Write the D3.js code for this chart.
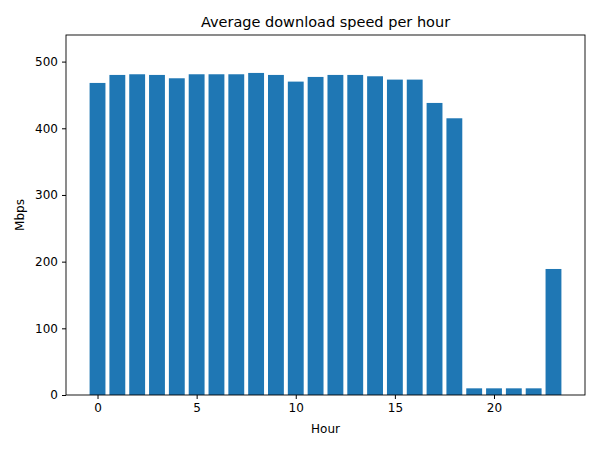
<!DOCTYPE html>
<html><head><meta charset="utf-8">
<script src="https://cdn.jsdelivr.net/npm/d3@7"></script>
<style>body{margin:0;background:#fff}text{font-family:"DejaVu Sans",sans-serif}</style>
</head><body><div id="app"></div>
<script>
const hours = d3.range(24);
const speeds = [468,480,481,480,475,481,481,481,483,480,470,477,480,480,478,473,473,438,415,10,10,10,10,189];
const xTicks = [0,5,10,15,20];
const yTicks = [0,100,200,300,400,500];

const W = 600, H = 450, m = {l:66, r:15, t:35, b:55};
const svg = d3.select("#app").append("svg").attr("width",W).attr("height",H);
const x = d3.scaleLinear().domain([-1.59,24.59]).range([m.l, W-m.r]);
const y = d3.scaleLinear().domain([0,500/0.96*1.0366]).range([H-m.b, m.t]);

svg.selectAll("rect.bar").data(hours).enter().append("rect")
  .attr("x", d=>x(d-0.4)).attr("width", x(0.8)-x(0))
  .attr("y", d=>y(speeds[d])).attr("height", d=>y(0)-y(speeds[d]))
  .attr("fill","#1f77b4");

const ax = svg.append("g").attr("transform",`translate(0,${H-m.b})`)
  .call(d3.axisBottom(x).tickValues(xTicks).tickSize(4).tickPadding(4));
const ay = svg.append("g").attr("transform",`translate(${m.l},0)`)
  .call(d3.axisLeft(y).tickValues(yTicks).tickSize(4).tickPadding(4));
[ax,ay].forEach(a=>{a.select(".domain").remove();a.selectAll("text").attr("font-size",12).attr("fill","#000");a.selectAll("line").attr("stroke","#000");});
svg.append("rect").attr("x",m.l).attr("y",m.t).attr("width",W-m.r-m.l).attr("height",H-m.b-m.t)
  .attr("fill","none").attr("stroke","#000").attr("stroke-width",0.9);

svg.append("text").attr("x",(m.l+W-m.r)/2).attr("y",27).attr("text-anchor","middle").attr("font-size",14.5).text("Average download speed per hour");
svg.append("text").attr("x",(m.l+W-m.r)/2).attr("y",433).attr("text-anchor","middle").attr("font-size",12).text("Hour");
svg.append("text").attr("transform",`translate(24,${(m.t+H-m.b)/2}) rotate(-90)`).attr("text-anchor","middle").attr("font-size",12).text("Mbps");
</script></body></html>
